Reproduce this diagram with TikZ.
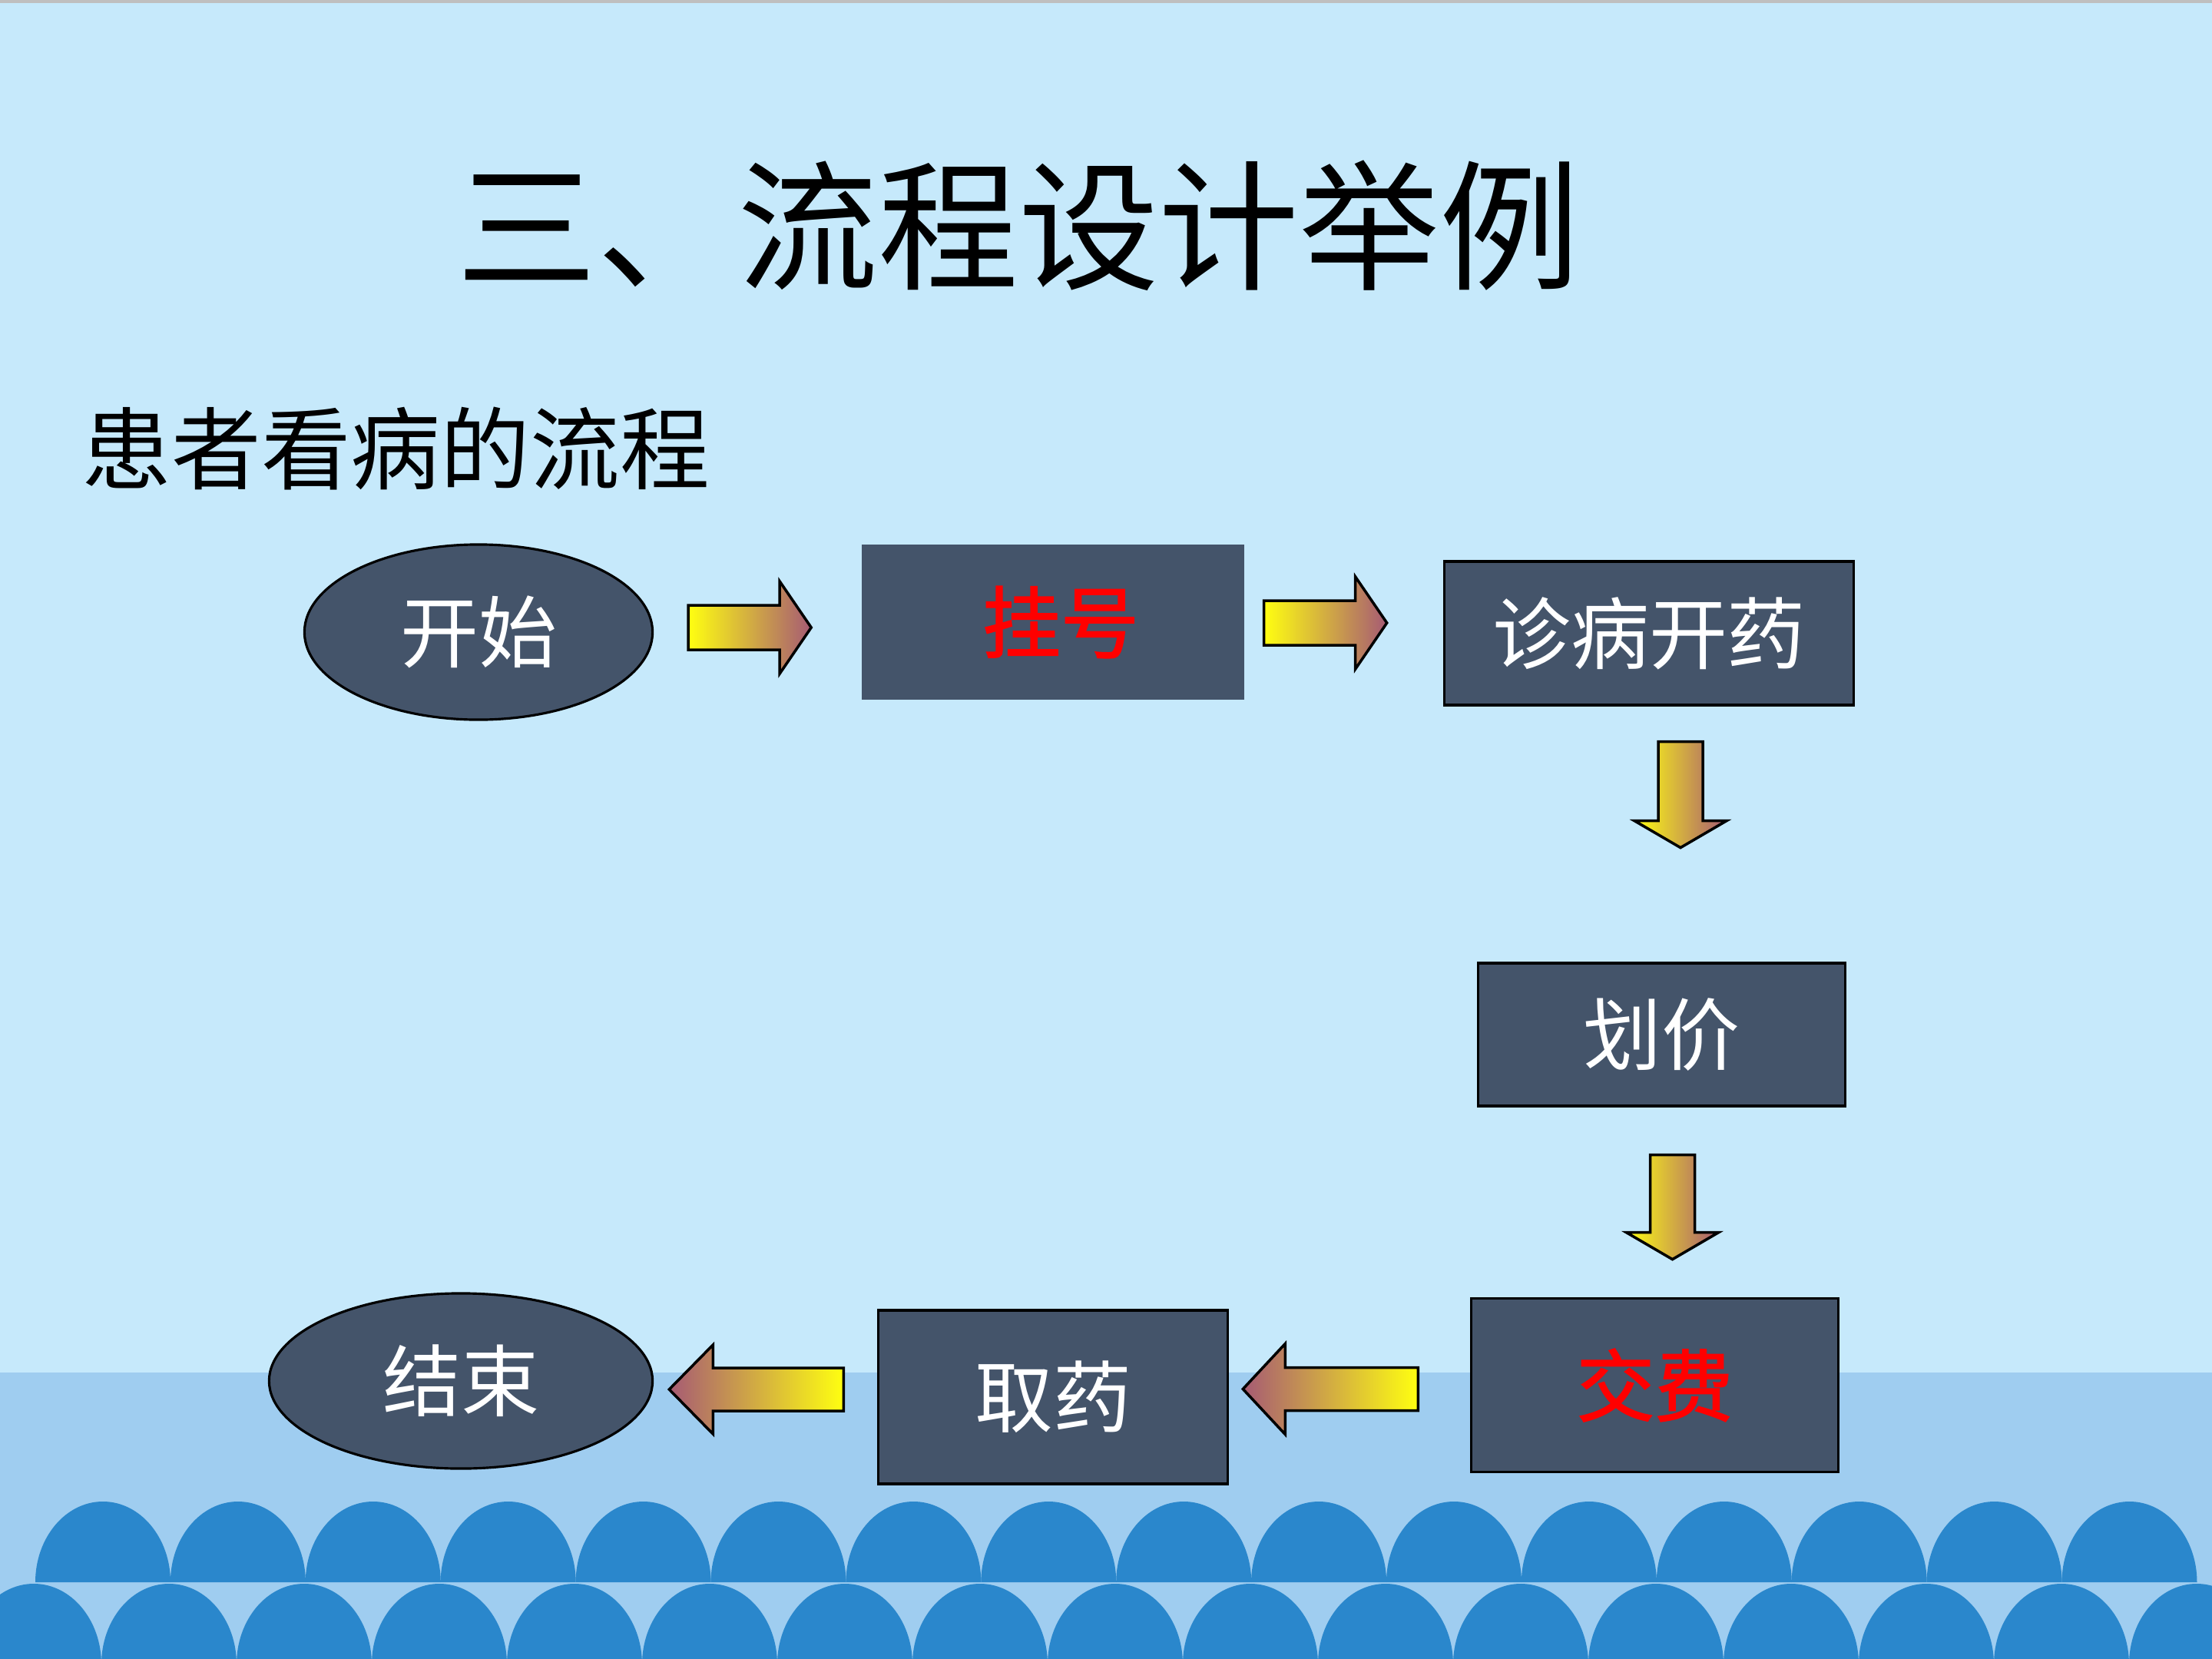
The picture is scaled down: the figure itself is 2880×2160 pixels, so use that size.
\documentclass[tikz,border=0pt]{standalone}
\usepackage{fontspec}
\newfontfamily\cjk{Noto Sans CJK SC}
\newfontfamily\cjkred[FakeBold=1.6]{Noto Sans CJK SC}
\usetikzlibrary{calc,shapes.geometric}
\definecolor{bgtop}{HTML}{C6E9FB}
\definecolor{bgbot}{HTML}{9FCDF0}
\definecolor{wave}{HTML}{2A87CC}
\definecolor{boxfill}{HTML}{44546A}
\definecolor{ay}{HTML}{FFFF10}
\definecolor{am}{HTML}{A65A74}
\begin{document}
\begin{tikzpicture}[x=0.01cm,y=-0.01cm,
  lbl/.style={font=\cjk\fontsize{29}{34}\selectfont},
  stepbox/.style={draw=black,line width=0.9pt,fill=boxfill,text=white,inner sep=0pt,lbl},
  endnode/.style={ellipse,draw=black,line width=0.9pt,fill=boxfill,text=white,inner sep=0pt,lbl},
  redtxt/.style={text=red,font=\cjkred\fontsize{29}{34}\selectfont},
  barrow/.style={draw=black,line width=1pt,line join=miter}]
\useasboundingbox (0,0) rectangle (2880,2160);
% background
\begin{scope}
\clip (0,0) rectangle (2880,2160);
\fill[bgtop] (0,0) rectangle (2880,1787);
\fill[bgbot] (0,1787) rectangle (2880,2160);
\fill[black!25] (0,0) rectangle (2880,4);
\foreach \i in {0,...,15}{
  \fill[wave] ({46+175.9*\i},2060) arc[start angle=180,end angle=360,x radius=88,y radius=105] -- cycle;}
\foreach \i in {0,...,16}{
  \fill[wave] ({-44+176*\i},2167) arc[start angle=180,end angle=360,x radius=88,y radius=105] -- cycle;}
\end{scope}
% texts
\node[font=\cjk\fontsize{52}{60}\selectfont,inner sep=0pt] (title) at (1326,294) {三、流程设计举例};
\node[anchor=west,font=\cjk\fontsize{33.2}{40}\selectfont,inner sep=0pt] (sub) at (106,584) {患者看病的流程};
% nodes
\node[endnode,minimum width=4.53cm,minimum height=2.28cm] (start) at (623,823) {开始};
\node[stepbox,draw=none,minimum width=4.98cm,minimum height=2.02cm,redtxt] (gh) at (1371,810) {\hspace*{0.2cm}挂号};
\node[stepbox,minimum width=5.32cm,minimum height=1.87cm] (zb) at (2147,824.5) {诊病开药};
\node[stepbox,minimum width=4.77cm,minimum height=1.86cm] (hj) at (2163.5,1347) {划价};
\node[stepbox,minimum width=4.77cm,minimum height=2.26cm,redtxt] (jf) at (2154.5,1803.5) {交费};
\node[stepbox,minimum width=4.54cm,minimum height=2.26cm] (qy) at (1371,1819) {取药};
\node[endnode,minimum width=4.99cm,minimum height=2.28cm] (end) at (600,1798) {结束};
% block arrows
\coordinate (a1) at ($(start.east)+(45,-6)$);
\draw[barrow,left color=ay,right color=am,shift={(a1)}] (0,-29)--(119,-29)--(119,-60)--(160,0)--(119,60)--(119,29)--(0,29)--cycle;
\coordinate (a2) at ($(gh.east)+(24,1)$);
\draw[barrow,left color=ay,right color=am,shift={(a2)}] (0,-29)--(119,-29)--(119,-60)--(160,0)--(119,60)--(119,29)--(0,29)--cycle;
\coordinate (d1) at ($(zb.south)+(41,46)$);
\draw[barrow,left color=ay,right color=am,shift={(d1)}] (-29,0)--(-29,103)--(-60,103)--(0,138)--(60,103)--(29,103)--(29,0)--cycle;
\coordinate (d2) at ($(hj.south)+(14,62)$);
\draw[barrow,left color=ay,right color=am,shift={(d2)}] (-29,0)--(-29,101)--(-60,101)--(0,136)--(60,101)--(29,101)--(29,0)--cycle;
\coordinate (l1) at ($(jf.west)+(-68,5)$);
\draw[barrow,left color=am,right color=ay,shift={(l1)}] (0,-28)--(-173,-28)--(-173,-59)--(-228,0)--(-173,59)--(-173,28)--(0,28)--cycle;
\coordinate (l2) at ($(qy.west)+(-44,-10)$);
\draw[barrow,left color=am,right color=ay,shift={(l2)}] (0,-28)--(-170,-28)--(-170,-58)--(-227,0)--(-170,58)--(-170,28)--(0,28)--cycle;
\end{tikzpicture}
\end{document}
